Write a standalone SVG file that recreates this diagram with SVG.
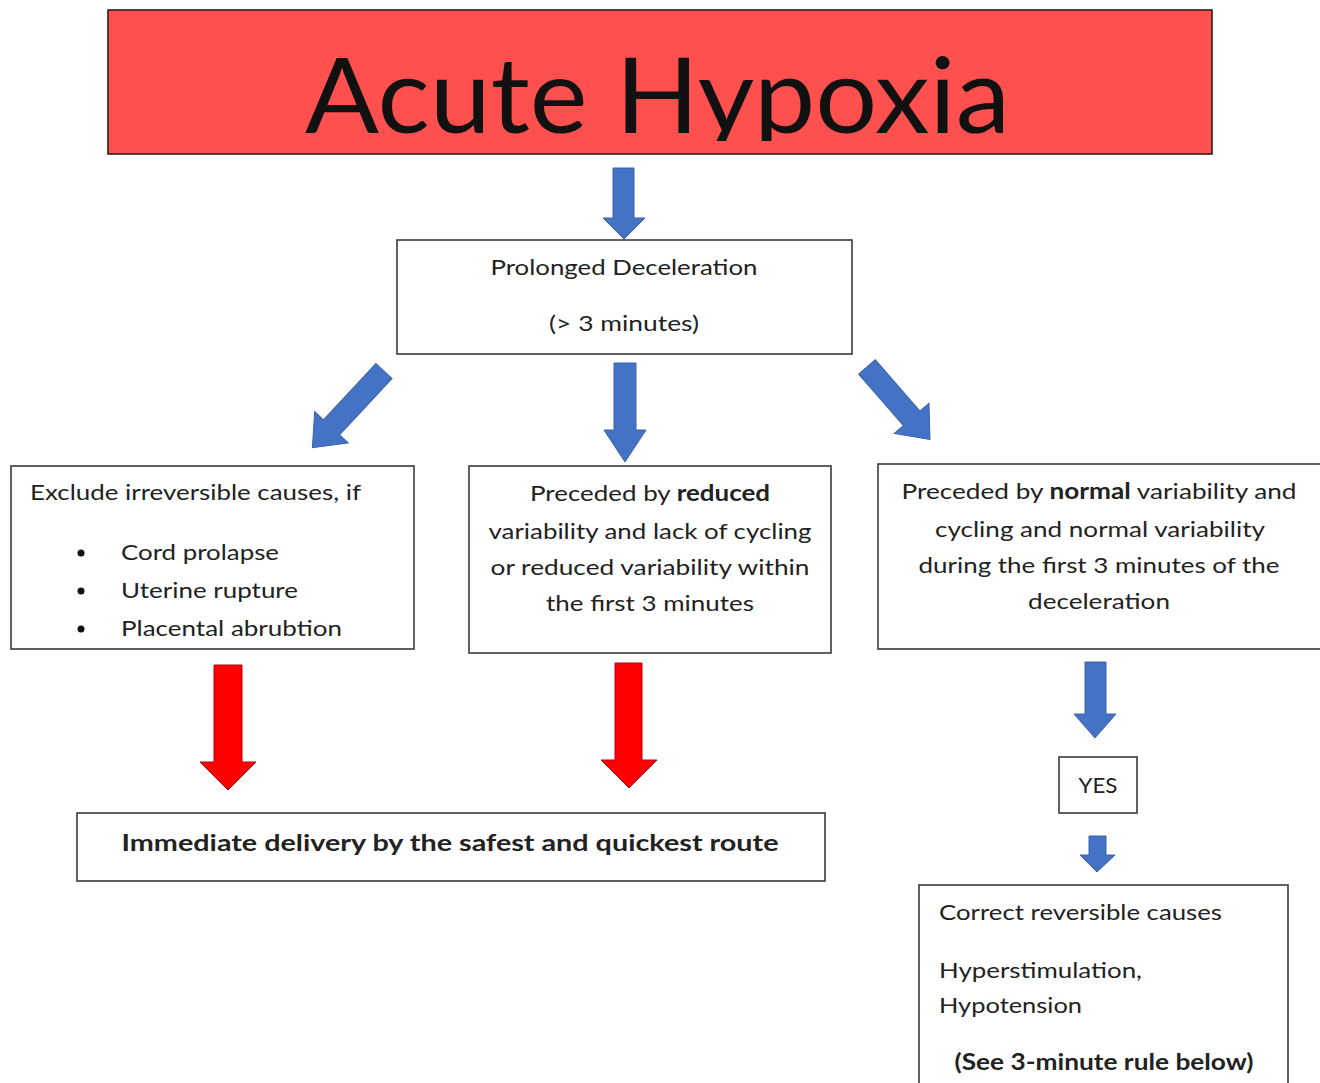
<svg xmlns="http://www.w3.org/2000/svg" width="1320" height="1083" viewBox="0 0 1320 1083">
<style>
.box{fill:#fff;stroke:#3a3a3a;stroke-width:1.6}
.t{font-family:Lato,"Open Sans","Liberation Sans",sans-serif;font-size:22px;fill:#222}
.b{font-weight:bold}
.blue{fill:#4472C4;stroke:#3A62A8;stroke-width:1}
.red{fill:#FF0000;stroke:#B00020;stroke-width:1}
</style>
<defs>
<clipPath id="titleclip"><rect x="108" y="10" width="1104" height="131"/></clipPath>
</defs>
<rect width="1320" height="1083" fill="#fff"/>

<g id="title">
<rect x="108" y="10" width="1104" height="144" fill="#FF5050" stroke="#3a1a1a" stroke-width="1.6"/>
<text x="305" y="133" clip-path="url(#titleclip)" font-family="Lato,'Open Sans','Liberation Sans',sans-serif" font-size="104" fill="#111" textLength="705" lengthAdjust="spacingAndGlyphs">Acute Hypoxia</text>
</g>

<g id="prolonged">
<rect class="box" x="397" y="240" width="455" height="114"/>
<text class="t" x="624" y="275" text-anchor="middle" textLength="267" lengthAdjust="spacingAndGlyphs">Prolonged Deceleration</text>
<text class="t" x="624" y="331" text-anchor="middle" textLength="150" lengthAdjust="spacingAndGlyphs">(&gt; 3 minutes)</text>
</g>

<g id="exclude">
<rect class="box" x="11" y="466" width="403" height="183"/>
<text class="t" x="30" y="500" textLength="331" lengthAdjust="spacingAndGlyphs">Exclude irreversible causes, if</text>
<circle cx="81" cy="553" r="3.5" fill="#111"/>
<circle cx="81" cy="591" r="3.5" fill="#111"/>
<circle cx="81" cy="629" r="3.5" fill="#111"/>
<text class="t" x="121" y="560" textLength="158" lengthAdjust="spacingAndGlyphs">Cord prolapse</text>
<text class="t" x="121" y="598" textLength="177" lengthAdjust="spacingAndGlyphs">Uterine rupture</text>
<text class="t" x="121" y="636" textLength="221" lengthAdjust="spacingAndGlyphs">Placental abrubtion</text>
</g>

<g id="reduced">
<rect class="box" x="469" y="466" width="362" height="187"/>
<text class="t" x="650" y="501" text-anchor="middle" textLength="240" lengthAdjust="spacingAndGlyphs">Preceded by <tspan class="b">reduced</tspan></text>
<text class="t" x="650" y="539" text-anchor="middle" textLength="323" lengthAdjust="spacingAndGlyphs">variability and lack of cycling</text>
<text class="t" x="650" y="575" text-anchor="middle" textLength="319" lengthAdjust="spacingAndGlyphs">or reduced variability within</text>
<text class="t" x="650" y="611" text-anchor="middle" textLength="208" lengthAdjust="spacingAndGlyphs">the first 3 minutes</text>
</g>

<g id="normal">
<rect class="box" x="878" y="464" width="450" height="185"/>
<text class="t" x="1099" y="499" text-anchor="middle" textLength="395" lengthAdjust="spacingAndGlyphs">Preceded by <tspan class="b">normal</tspan> variability and</text>
<text class="t" x="1100" y="537" text-anchor="middle" textLength="330" lengthAdjust="spacingAndGlyphs">cycling and normal variability</text>
<text class="t" x="1099" y="573" text-anchor="middle" textLength="361" lengthAdjust="spacingAndGlyphs">during the first 3 minutes of the</text>
<text class="t" x="1099" y="609" text-anchor="middle" textLength="142" lengthAdjust="spacingAndGlyphs">deceleration</text>
</g>

<g id="delivery">
<rect class="box" x="77" y="813" width="748" height="68"/>
<text class="t b" x="450" y="851" text-anchor="middle" textLength="657" lengthAdjust="spacingAndGlyphs">Immediate delivery by the safest and quickest route</text>
</g>

<g id="yes">
<rect class="box" x="1059" y="757" width="78" height="56"/>
<text class="t" x="1098" y="793" text-anchor="middle" textLength="39" lengthAdjust="spacingAndGlyphs">YES</text>
</g>

<g id="correct">
<rect class="box" x="919" y="885" width="369" height="210"/>
<text class="t" x="939" y="920" textLength="283" lengthAdjust="spacingAndGlyphs">Correct reversible causes</text>
<text class="t" x="939" y="978" textLength="203" lengthAdjust="spacingAndGlyphs">Hyperstimulation,</text>
<text class="t" x="939" y="1013" textLength="143" lengthAdjust="spacingAndGlyphs">Hypotension</text>
<text class="t b" x="1104" y="1070" text-anchor="middle" textLength="299" lengthAdjust="spacingAndGlyphs">(See 3-minute rule below)</text>
</g>

<g id="connectors">
<path class="blue" d="M613,168 H634 V218 H645 L624,239 L603,218 H613 Z"/>
<path class="blue" d="M614,363 H636 V430 H646 L625,462 L604,430 H614 Z"/>
<path class="blue" transform="translate(384,371) rotate(43)" d="M-11,0 L11,0 L11,77 L23,77 L0,105 L-23,77 L-11,77 Z"/>
<path class="blue" transform="translate(867,367) rotate(-41)" d="M-11,0 L11,0 L11,68 L23,68 L0,96 L-23,68 L-11,68 Z"/>
<path class="red" d="M214,665 H242 V762 H256 L228,790 L200,762 H214 Z"/>
<path class="red" d="M615,663 H642 V760 H657 L629,788 L601,760 H615 Z"/>
<path class="blue" d="M1085,662 H1106 V714 H1116 L1095,738 L1074,714 H1085 Z"/>
<path class="blue" d="M1089,836 H1106 V855 H1115 L1097,872 L1080,855 H1089 Z"/>
</g>
</svg>
